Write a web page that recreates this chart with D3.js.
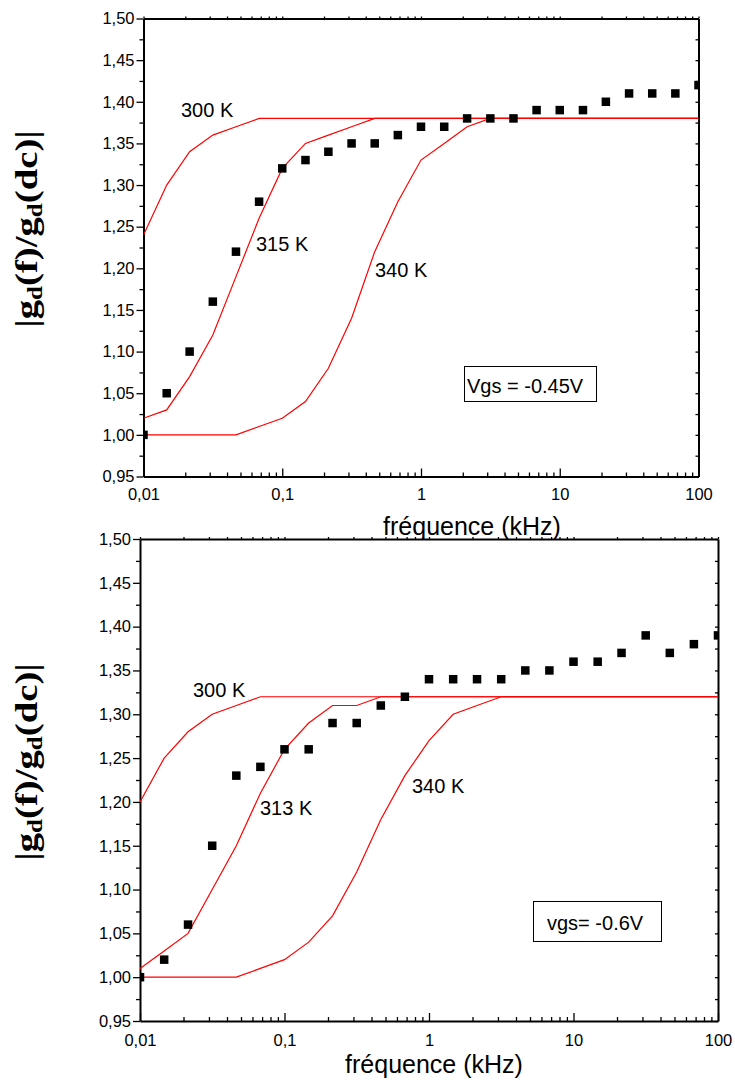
<!DOCTYPE html>
<html>
<head>
<meta charset="utf-8">
<script src="https://cdn.jsdelivr.net/npm/d3@7"></script>
<style>
  html, body { margin: 0; padding: 0; background: #fff; }
  svg { display: block; }
</style>
</head>
<body>
<svg id="chart" width="735" height="1092"></svg>
<script>
// Frequencies (kHz), six points per decade
const freqKHz = [0.01, 0.0147, 0.0215, 0.0316, 0.0464, 0.0681,
                 0.1, 0.147, 0.215, 0.316, 0.464, 0.681,
                 1, 1.47, 2.15, 3.16, 4.64, 6.81,
                 10, 14.7, 21.5, 31.6, 46.4, 68.1, 100];

// Vgs = -0.45 V : measured |gd(f)/gd(dc)|
const measuredA = [1.00, 1.05, 1.10, 1.16, 1.22, 1.28, 1.32, 1.33, 1.34, 1.35, 1.35, 1.36,
                   1.37, 1.37, 1.38, 1.38, 1.38, 1.39, 1.39, 1.39, 1.40, 1.41, 1.41, 1.41, 1.42];
// Vgs = -0.45 V : simulated curves
const simA300 = [1.24, 1.30, 1.34, 1.36, 1.37, 1.38, 1.38, 1.38, 1.38, 1.38, 1.38, 1.38,
                 1.38, 1.38, 1.38, 1.38, 1.38, 1.38, 1.38, 1.38, 1.38, 1.38, 1.38, 1.38, 1.38];
const simA315 = [1.02, 1.03, 1.07, 1.12, 1.19, 1.26, 1.32, 1.35, 1.36, 1.37, 1.38, 1.38,
                 1.38, 1.38, 1.38, 1.38, 1.38, 1.38, 1.38, 1.38, 1.38, 1.38, 1.38, 1.38, 1.38];
const simA340 = [1.00, 1.00, 1.00, 1.00, 1.00, 1.01, 1.02, 1.04, 1.08, 1.14, 1.22, 1.28,
                 1.33, 1.35, 1.37, 1.38, 1.38, 1.38, 1.38, 1.38, 1.38, 1.38, 1.38, 1.38, 1.38];

// Vgs = -0.6 V : measured |gd(f)/gd(dc)|
const measuredB = [1.00, 1.02, 1.06, 1.15, 1.23, 1.24, 1.26, 1.26, 1.29, 1.29, 1.31, 1.32,
                   1.34, 1.34, 1.34, 1.34, 1.35, 1.35, 1.36, 1.36, 1.37, 1.39, 1.37, 1.38, 1.39];
// Vgs = -0.6 V : simulated curves
const simB300 = [1.20, 1.25, 1.28, 1.30, 1.31, 1.32, 1.32, 1.32, 1.32, 1.32, 1.32, 1.32,
                 1.32, 1.32, 1.32, 1.32, 1.32, 1.32, 1.32, 1.32, 1.32, 1.32, 1.32, 1.32, 1.32];
const simB313 = [1.01, 1.03, 1.05, 1.10, 1.15, 1.21, 1.26, 1.29, 1.31, 1.31, 1.32, 1.32,
                 1.32, 1.32, 1.32, 1.32, 1.32, 1.32, 1.32, 1.32, 1.32, 1.32, 1.32, 1.32, 1.32];
const simB340 = [1.00, 1.00, 1.00, 1.00, 1.00, 1.01, 1.02, 1.04, 1.07, 1.12, 1.18, 1.23,
                 1.27, 1.30, 1.31, 1.32, 1.32, 1.32, 1.32, 1.32, 1.32, 1.32, 1.32, 1.32, 1.32];

// Axis ticks
const xTicks = [0.01, 0.1, 1, 10, 100];
const xTickLabels = ["0,01", "0,1", "1", "10", "100"];
const yTicks = [0.95, 1.00, 1.05, 1.10, 1.15, 1.20, 1.25, 1.30, 1.35, 1.40, 1.45, 1.50];
const yTickLabels = ["0,95", "1,00", "1,05", "1,10", "1,15", "1,20", "1,25", "1,30", "1,35", "1,40", "1,45", "1,50"];

const curveLabelsA = ["300 K", "315 K", "340 K"];
const curveLabelsB = ["300 K", "313 K", "340 K"];
const xTitle = "fréquence (kHz)";

const svg = d3.select("#chart");
const SANS = "'Liberation Sans', Arial, sans-serif";
const SERIF = "'Liberation Serif', 'Times New Roman', serif";

function drawPanel(p, id) {
  const x = d3.scaleLog().domain([0.01, 100]).range([p.left, p.right]);
  const y = d3.scaleLinear().domain([0.95, 1.50]).range([p.bottom, p.top]);
  const g = svg.append("g");

  g.append("clipPath").attr("id", id)
    .append("rect")
    .attr("x", p.left).attr("y", p.top)
    .attr("width", p.right - p.left).attr("height", p.bottom - p.top);

  // minor tick positions
  const minorX = [];
  [0.01, 0.1, 1, 10].forEach(d => { for (let k = 2; k <= 9; k++) minorX.push(d * k); });
  const minorY = d3.range(0, 11).map(i => 0.975 + i * 0.05);

  // bottom axis: ticks point inward
  const bottomAxis = d3.axisBottom(x).tickValues(xTicks)
    .tickFormat((d, i) => xTickLabels[i]).tickSizeInner(-8).tickSizeOuter(0);
  const gb = g.append("g").attr("transform", `translate(0,${p.bottom})`).call(bottomAxis);
  gb.selectAll("text").attr("font-family", SANS).attr("font-size", 16.5).attr("fill", "#000")
    .attr("dy", null).attr("y", p.xLabelOffset);
  const gbm = g.append("g").attr("transform", `translate(0,${p.bottom})`)
    .call(d3.axisBottom(x).tickValues(minorX).tickFormat("").tickSizeInner(-4).tickSizeOuter(0));
  gbm.select(".domain").remove();

  // left axis: ticks point outward
  const leftAxis = d3.axisLeft(y).tickValues(yTicks)
    .tickFormat((d, i) => yTickLabels[i]).tickSizeInner(7).tickSizeOuter(0).tickPadding(2);
  const gl = g.append("g").attr("transform", `translate(${p.left},0)`).call(leftAxis);
  gl.selectAll("text").attr("font-family", SANS).attr("font-size", 16.5).attr("fill", "#000");
  const glm = g.append("g").attr("transform", `translate(${p.left},0)`)
    .call(d3.axisLeft(y).tickValues(minorY).tickFormat("").tickSizeInner(4).tickSizeOuter(0));
  glm.select(".domain").remove();

  // top axis: small ticks
  g.append("g").attr("transform", `translate(0,${p.top})`)
    .call(d3.axisTop(x).tickValues(xTicks.concat(minorX)).tickFormat("").tickSizeInner(2).tickSizeOuter(0));
  // right axis: small ticks
  g.append("g").attr("transform", `translate(${p.right},0)`)
    .call(d3.axisRight(y).tickValues(yTicks.concat(minorY)).tickFormat("").tickSizeInner(-3).tickSizeOuter(0));

  g.selectAll(".domain").attr("stroke", "#000").attr("stroke-width", 2);
  g.selectAll(".tick line").attr("stroke", "#000").attr("stroke-width", 1.3);

  // simulated curves
  const line = d3.line().x((d, i) => x(freqKHz[i])).y(d => y(d));
  const lines = g.append("g").attr("clip-path", `url(#${id})`);
  p.sims.forEach(s => {
    lines.append("path").datum(s)
      .attr("d", line).attr("fill", "none")
      .attr("stroke", "#ff0000").attr("stroke-width", 1.2);
  });

  // measured points
  const sz = 8.5;
  g.append("g").attr("clip-path", `url(#${id})`)
    .selectAll("rect").data(p.measured).join("rect")
    .attr("x", (d, i) => x(freqKHz[i]) - sz / 2)
    .attr("y", d => y(d) - sz / 2)
    .attr("width", sz).attr("height", sz).attr("fill", "#000");

  // curve labels
  p.curveLabels.forEach((t, i) => {
    g.append("text").attr("x", p.labelPos[i][0]).attr("y", p.labelPos[i][1])
      .attr("font-family", SANS).attr("font-size", 20).attr("fill", "#000").text(t);
  });

  // bias box
  g.append("rect").attr("x", p.box[0]).attr("y", p.box[1]).attr("width", p.box[2]).attr("height", p.box[3])
    .attr("fill", "#fff").attr("stroke", "#000").attr("stroke-width", 1);
  g.append("text").attr("x", p.boxText[0]).attr("y", p.boxText[1])
    .attr("font-family", SANS).attr("font-size", 20).attr("fill", "#000").text(p.boxLabel);

  // x title
  g.append("text").attr("x", p.xTitlePos[0]).attr("y", p.xTitlePos[1]).attr("text-anchor", "middle")
    .attr("font-family", SANS).attr("font-size", 25).attr("fill", "#000").text(xTitle);

  // y title |gd(f)/gd(dc)|
  const yt = g.append("text")
    .attr("transform", `translate(${p.yTitlePos[0]},${p.yTitlePos[1]}) rotate(-90) scale(1.25,1)`)
    .attr("text-anchor", "middle")
    .attr("font-family", SERIF).attr("font-weight", "bold").attr("font-size", 31).attr("fill", "#000");
  yt.append("tspan").text("|g");
  yt.append("tspan").attr("font-size", 20).attr("dy", 5).text("d");
  yt.append("tspan").attr("dy", -5).text("(f)/g");
  yt.append("tspan").attr("font-size", 20).attr("dy", 5).text("d");
  yt.append("tspan").attr("dy", -5).text("(dc)|");
}

drawPanel({
  left: 143.5, right: 698.5, top: 18.5, bottom: 476.5,
  xLabelOffset: 23,
  sims: [simA300, simA315, simA340],
  measured: measuredA,
  curveLabels: curveLabelsA,
  labelPos: [[181, 117], [256, 251], [375, 277]],
  box: [464.5, 366.5, 132, 35],
  boxText: [467, 393],
  boxLabel: "Vgs = -0.45V",
  xTitlePos: [472, 535],
  yTitlePos: [37, 229]
}, "clipA");

drawPanel({
  left: 140, right: 718, top: 539, bottom: 1021,
  xLabelOffset: 25,
  sims: [simB300, simB313, simB340],
  measured: measuredB,
  curveLabels: curveLabelsB,
  labelPos: [[193, 697], [260, 815], [412, 793]],
  box: [533.5, 901.5, 128, 40],
  boxText: [547, 930],
  boxLabel: "vgs= -0.6V",
  xTitlePos: [434, 1073],
  yTitlePos: [37, 762]
}, "clipB");
</script>
</body>
</html>
